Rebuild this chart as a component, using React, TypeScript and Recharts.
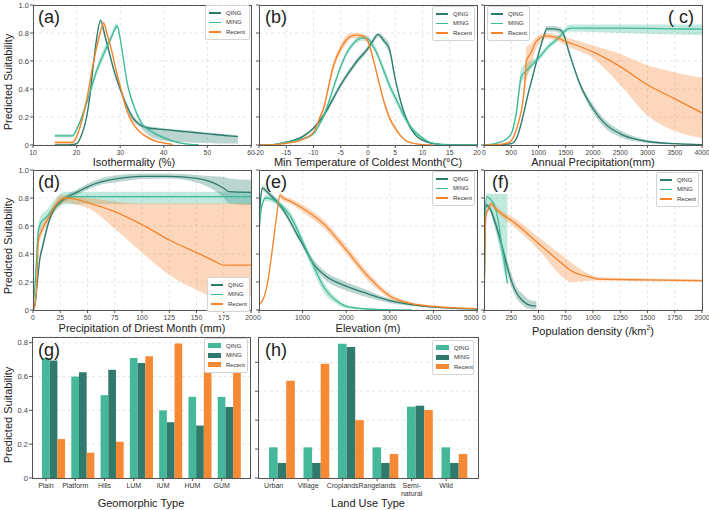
import React from 'react';
import { ComposedChart, Line, Area, XAxis, YAxis, CartesianGrid, BarChart, Bar } from 'recharts';

const FONT = "'Liberation Sans', Arial, sans-serif";
const QING_LINE = '#2a7d6d';
const MING_LINE = '#3dbb98';
const RECENT_LINE = '#f5832a';
const QING_BAR = '#45b89a';
const MING_BAR = '#2f7a6d';
const RECENT_BAR = '#f68a34';

// each point: [x, mean, lower, upper]
type Pt = [number, number, number, number];

// (a) Isothermality (%)
const isoQing: Pt[] = [
  [15, 0, 0, 0.004], [18, 0, 0, 0.004], [20, 0.01, 0.005, 0.015], [21, 0.06, 0.05, 0.07],
  [22.3, 0.2, 0.18, 0.22], [23, 0.34, 0.32, 0.36], [23.8, 0.56, 0.54, 0.58], [24.5, 0.74, 0.72, 0.76],
  [25.5, 0.89, 0.87, 0.9], [26.5, 0.78, 0.76, 0.8], [27.5, 0.66, 0.64, 0.68], [28.5, 0.54, 0.52, 0.56],
  [30, 0.4, 0.38, 0.42], [31.5, 0.28, 0.26, 0.3], [33, 0.19, 0.17, 0.21], [34.5, 0.145, 0.13, 0.16],
  [36, 0.125, 0.08, 0.135], [40, 0.11, 0.03, 0.12], [45, 0.095, 0.02, 0.105], [50, 0.08, 0.015, 0.09],
  [55, 0.065, 0.01, 0.075], [57, 0.06, 0.01, 0.07],
];
const isoMing: Pt[] = [
  [15, 0.065, 0.055, 0.078], [19, 0.065, 0.055, 0.078], [20, 0.11, 0.1, 0.125], [22.3, 0.3, 0.28, 0.33],
  [23.5, 0.42, 0.39, 0.45], [24.6, 0.53, 0.5, 0.56], [25.8, 0.62, 0.59, 0.66], [26.9, 0.7, 0.67, 0.73],
  [28, 0.77, 0.75, 0.8], [28.8, 0.83, 0.81, 0.86], [29.3, 0.85, 0.83, 0.87], [30, 0.76, 0.74, 0.78],
  [30.5, 0.66, 0.64, 0.68], [31, 0.56, 0.54, 0.58], [31.5, 0.46, 0.44, 0.48], [32, 0.39, 0.37, 0.41],
  [33, 0.29, 0.27, 0.31], [34, 0.21, 0.19, 0.23], [35, 0.15, 0.14, 0.17], [37, 0.1, 0.09, 0.11],
  [39, 0.065, 0.055, 0.075], [41, 0.04, 0.03, 0.05], [43, 0.02, 0.012, 0.028], [45, 0.008, 0.003, 0.013],
  [48, 0.002, 0, 0.005],
];
const isoRecent: Pt[] = [
  [15, 0.018, 0.01, 0.026], [19, 0.018, 0.01, 0.026], [20, 0.06, 0.05, 0.07], [21, 0.15, 0.14, 0.17],
  [22.3, 0.32, 0.3, 0.34], [23.8, 0.58, 0.56, 0.6], [25.4, 0.8, 0.78, 0.82], [26.2, 0.87, 0.85, 0.885],
  [27, 0.79, 0.77, 0.81], [28, 0.68, 0.66, 0.7], [29, 0.54, 0.52, 0.56], [30, 0.42, 0.4, 0.44],
  [31, 0.3, 0.28, 0.32], [32, 0.21, 0.19, 0.23], [33, 0.15, 0.14, 0.17], [34, 0.11, 0.1, 0.12],
  [36, 0.06, 0.05, 0.07], [38, 0.03, 0.022, 0.038], [40, 0.015, 0.008, 0.02], [42, 0.005, 0.001, 0.009],
];

// (b) Min temperature of coldest month
const tempQing: Pt[] = [
  [-20, 0, 0, 0.003], [-17, 0.005, 0.002, 0.008], [-15, 0.02, 0.015, 0.025], [-12, 0.06, 0.05, 0.07],
  [-10, 0.12, 0.11, 0.13], [-8, 0.22, 0.2, 0.24], [-6, 0.36, 0.34, 0.38], [-5, 0.43, 0.41, 0.45],
  [-4, 0.49, 0.47, 0.51], [-2, 0.6, 0.58, 0.62], [0, 0.69, 0.67, 0.71], [1, 0.75, 0.73, 0.77],
  [1.8, 0.79, 0.77, 0.8], [3, 0.74, 0.72, 0.77], [3.9, 0.69, 0.65, 0.72], [5, 0.47, 0.45, 0.49],
  [6, 0.31, 0.29, 0.33], [7, 0.19, 0.18, 0.21], [8, 0.11, 0.1, 0.12], [9, 0.06, 0.05, 0.07],
  [10, 0.035, 0.028, 0.042], [12, 0.01, 0.006, 0.014], [15, 0.002, 0, 0.004], [20, 0, 0, 0.002],
];
const tempMing: Pt[] = [
  [-20, 0, 0, 0.003], [-17, 0.005, 0.002, 0.008], [-15, 0.02, 0.015, 0.025], [-12, 0.045, 0.038, 0.052],
  [-10, 0.08, 0.07, 0.09], [-9, 0.14, 0.13, 0.15], [-8, 0.22, 0.2, 0.24], [-7, 0.33, 0.31, 0.35],
  [-6, 0.45, 0.43, 0.47], [-5, 0.56, 0.54, 0.58], [-4, 0.65, 0.63, 0.67], [-3, 0.71, 0.69, 0.73],
  [-2, 0.75, 0.73, 0.77], [-1, 0.765, 0.745, 0.785], [0, 0.76, 0.74, 0.78], [0.5, 0.73, 0.71, 0.755],
  [1.3, 0.68, 0.66, 0.71], [2, 0.62, 0.6, 0.65], [3.2, 0.5, 0.47, 0.53], [4, 0.42, 0.39, 0.45],
  [5, 0.34, 0.31, 0.37], [6.2, 0.24, 0.21, 0.27], [7, 0.18, 0.16, 0.21], [8, 0.12, 0.1, 0.14],
  [9, 0.08, 0.065, 0.095], [10, 0.05, 0.04, 0.06], [11, 0.025, 0.018, 0.032], [12.3, 0.01, 0.006, 0.014],
  [15, 0.001, 0, 0.003], [20, 0, 0, 0.001],
];
const tempRecent: Pt[] = [
  [-20, 0, 0, 0.002], [-17, 0.003, 0.001, 0.005], [-15, 0.012, 0.008, 0.016], [-12, 0.04, 0.034, 0.046],
  [-10, 0.09, 0.08, 0.1], [-8.8, 0.2, 0.18, 0.22], [-8, 0.28, 0.26, 0.31], [-7.5, 0.37, 0.34, 0.4],
  [-6.3, 0.57, 0.54, 0.6], [-5, 0.69, 0.66, 0.72], [-4, 0.75, 0.72, 0.78], [-3, 0.78, 0.76, 0.8],
  [-2, 0.785, 0.765, 0.8], [-1, 0.78, 0.76, 0.795], [0, 0.74, 0.72, 0.76], [0.5, 0.68, 0.66, 0.7],
  [1.3, 0.56, 0.54, 0.58], [2, 0.45, 0.43, 0.47], [3, 0.3, 0.28, 0.32], [4, 0.19, 0.17, 0.21],
  [5, 0.12, 0.105, 0.135], [6, 0.065, 0.055, 0.075], [7, 0.03, 0.024, 0.036], [8, 0.015, 0.01, 0.02],
  [10, 0.003, 0.001, 0.005], [12, 0, 0, 0.002],
];

// (c) Annual precipitation
const precipQing: Pt[] = [
  [0, 0, 0, 0.002], [300, 0.003, 0.001, 0.005], [500, 0.01, 0.006, 0.014], [600, 0.05, 0.04, 0.06],
  [700, 0.18, 0.16, 0.2], [800, 0.35, 0.33, 0.37], [900, 0.5, 0.48, 0.52], [1000, 0.65, 0.63, 0.67],
  [1100, 0.78, 0.76, 0.8], [1150, 0.83, 0.81, 0.85], [1250, 0.83, 0.81, 0.85], [1400, 0.82, 0.8, 0.84],
  [1450, 0.8, 0.78, 0.82], [1570, 0.65, 0.63, 0.67], [1755, 0.44, 0.42, 0.46], [2000, 0.26, 0.23, 0.29],
  [2200, 0.16, 0.13, 0.19], [2500, 0.08, 0.055, 0.105], [2800, 0.04, 0.025, 0.055], [3000, 0.025, 0.015, 0.035],
  [3500, 0.01, 0.005, 0.015], [4000, 0.003, 0, 0.006],
];
const precipMing: Pt[] = [
  [0, 0, 0, 0.002], [200, 0.01, 0.007, 0.013], [400, 0.04, 0.035, 0.045], [500, 0.08, 0.07, 0.09],
  [593, 0.23, 0.2, 0.26], [685, 0.49, 0.44, 0.55], [777, 0.53, 0.49, 0.58], [900, 0.58, 0.56, 0.61],
  [1000, 0.62, 0.6, 0.64], [1200, 0.71, 0.69, 0.73], [1327, 0.75, 0.73, 0.77], [1450, 0.8, 0.78, 0.82],
  [1540, 0.83, 0.81, 0.855], [1600, 0.835, 0.81, 0.86], [2500, 0.835, 0.8, 0.86], [3500, 0.83, 0.79, 0.86],
  [4000, 0.827, 0.785, 0.86],
];
const precipRecent: Pt[] = [
  [0, 0, 0, 0.002], [300, 0.005, 0.003, 0.007], [470, 0.02, 0.015, 0.025], [624, 0.15, 0.13, 0.17],
  [716, 0.32, 0.29, 0.35], [760, 0.5, 0.4, 0.6], [777, 0.6, 0.45, 0.7], [850, 0.65, 0.55, 0.72],
  [960, 0.74, 0.69, 0.77], [1144, 0.78, 0.76, 0.8], [1300, 0.77, 0.75, 0.79], [1500, 0.74, 0.71, 0.77],
  [2000, 0.665, 0.62, 0.71], [2500, 0.56, 0.43, 0.65], [3000, 0.43, 0.21, 0.57], [3500, 0.33, 0.1, 0.52],
  [4000, 0.23, 0.05, 0.48],
];

// (d) Precipitation of driest month
const dryQing: Pt[] = [
  [0, 0, 0, 0.01], [2, 0.05, 0.03, 0.07], [4, 0.2, 0.17, 0.23], [6, 0.35, 0.32, 0.38], [9, 0.46, 0.43, 0.49],
  [12, 0.56, 0.53, 0.59], [15, 0.64, 0.62, 0.66], [18, 0.7, 0.68, 0.72], [21, 0.74, 0.72, 0.76],
  [25, 0.77, 0.75, 0.79], [30, 0.8, 0.78, 0.82], [40, 0.84, 0.82, 0.86], [50, 0.88, 0.86, 0.9],
  [60, 0.91, 0.89, 0.935], [75, 0.935, 0.91, 0.96], [100, 0.955, 0.935, 0.975], [125, 0.955, 0.94, 0.975],
  [150, 0.94, 0.91, 0.965], [165, 0.91, 0.86, 0.955], [175, 0.87, 0.8, 0.95], [180, 0.845, 0.76, 0.94],
  [200, 0.84, 0.75, 0.93],
];
const dryMing: Pt[] = [
  [0, 0, 0, 0.01], [2, 0.2, 0.16, 0.24], [5, 0.57, 0.52, 0.62], [7, 0.62, 0.57, 0.67], [10, 0.65, 0.6, 0.7],
  [12, 0.66, 0.62, 0.71], [15, 0.69, 0.65, 0.74], [21, 0.75, 0.71, 0.8], [25, 0.78, 0.74, 0.83],
  [30, 0.805, 0.755, 0.845], [40, 0.81, 0.755, 0.845], [200, 0.81, 0.755, 0.845],
];
const dryRecent: Pt[] = [
  [0, 0, 0, 0.01], [2, 0.04, 0.02, 0.06], [4, 0.3, 0.26, 0.34], [5, 0.5, 0.46, 0.54], [7, 0.55, 0.51, 0.59],
  [10, 0.6, 0.57, 0.63], [15, 0.67, 0.64, 0.7], [20, 0.74, 0.71, 0.77], [25, 0.785, 0.75, 0.82],
  [30, 0.8, 0.77, 0.82], [40, 0.79, 0.75, 0.81], [50, 0.767, 0.73, 0.8], [75, 0.703, 0.58, 0.775],
  [100, 0.61, 0.41, 0.76], [125, 0.5, 0.25, 0.76], [150, 0.41, 0.145, 0.76], [165, 0.355, 0.1, 0.76],
  [175, 0.32, 0.1, 0.76], [180, 0.32, 0.1, 0.76], [200, 0.32, 0.1, 0.76],
];

// (e) Elevation
const elevQing: Pt[] = [
  [0, 0.6, 0.57, 0.63], [40, 0.8, 0.77, 0.83], [80, 0.87, 0.85, 0.89], [200, 0.84, 0.82, 0.86],
  [500, 0.74, 0.72, 0.76], [720, 0.63, 0.61, 0.65], [870, 0.54, 0.52, 0.56], [1000, 0.47, 0.45, 0.49],
  [1250, 0.33, 0.31, 0.36], [1500, 0.25, 0.22, 0.28], [2000, 0.17, 0.14, 0.2], [2500, 0.115, 0.09, 0.14],
  [3000, 0.067, 0.05, 0.08], [3500, 0.038, 0.028, 0.048], [4000, 0.02, 0.014, 0.026], [4500, 0.012, 0.008, 0.016],
  [5000, 0.007, 0.004, 0.01],
];
const elevMing: Pt[] = [
  [0, 0.55, 0.52, 0.58], [50, 0.72, 0.69, 0.75], [150, 0.8, 0.78, 0.82], [300, 0.79, 0.77, 0.81],
  [500, 0.75, 0.73, 0.77], [700, 0.68, 0.66, 0.71], [1000, 0.49, 0.46, 0.52], [1200, 0.35, 0.31, 0.38],
  [1500, 0.157, 0.12, 0.19], [1800, 0.06, 0.04, 0.08], [2000, 0.026, 0.015, 0.037], [2500, 0.007, 0.002, 0.012],
  [3000, 0.001, 0, 0.003], [3500, 0, 0, 0.001],
];
const elevRecent: Pt[] = [
  [0, 0.04, 0.03, 0.05], [100, 0.08, 0.07, 0.09], [200, 0.2, 0.18, 0.22], [300, 0.42, 0.4, 0.44],
  [400, 0.66, 0.64, 0.68], [480, 0.82, 0.8, 0.84], [550, 0.8, 0.78, 0.82], [700, 0.78, 0.76, 0.8],
  [1000, 0.727, 0.7, 0.75], [1500, 0.61, 0.58, 0.64], [2000, 0.43, 0.4, 0.46], [2500, 0.24, 0.21, 0.27],
  [3000, 0.1, 0.08, 0.12], [3500, 0.045, 0.035, 0.055], [4000, 0.025, 0.018, 0.032], [4500, 0.015, 0.01, 0.02],
  [5000, 0.01, 0.006, 0.014],
];

// (f) Population density
const popQing: Pt[] = [
  [0, 0, 0, 0.01], [10, 0.6, 0.57, 0.63], [20, 0.75, 0.73, 0.77], [50, 0.73, 0.71, 0.75],
  [100, 0.63, 0.6, 0.66], [150, 0.5, 0.45, 0.53], [200, 0.35, 0.3, 0.39], [250, 0.21, 0.17, 0.26],
  [300, 0.12, 0.08, 0.16], [350, 0.07, 0.04, 0.12], [400, 0.04, 0.01, 0.08], [450, 0.03, 0.005, 0.065],
  [480, 0.03, 0.005, 0.065],
];
const popMing: Pt[] = [
  [0, 0, 0, 0.01], [10, 0.65, 0.6, 0.7], [25, 0.81, 0.77, 0.83], [60, 0.79, 0.7, 0.83], [100, 0.74, 0.58, 0.83],
  [130, 0.64, 0.49, 0.83], [160, 0.48, 0.37, 0.83], [190, 0.32, 0.25, 0.83], [215, 0.19, 0.18, 0.83],
];
const popRecent: Pt[] = [
  [0, 0, 0, 0.01], [10, 0.55, 0.53, 0.57], [20, 0.68, 0.66, 0.7], [40, 0.72, 0.7, 0.74], [67, 0.76, 0.74, 0.775],
  [100, 0.73, 0.71, 0.75], [200, 0.665, 0.64, 0.69], [250, 0.64, 0.61, 0.67], [500, 0.475, 0.43, 0.52],
  [750, 0.31, 0.22, 0.37], [800, 0.28, 0.2, 0.34], [1000, 0.23, 0.21, 0.245], [1050, 0.22, 0.21, 0.235],
  [1500, 0.215, 0.205, 0.225], [2000, 0.21, 0.2, 0.22],
];

// (g) Geomorphic type
const geoCats = ['Plain', 'Platform', 'Hills', 'LUM', 'IUM', 'HUM', 'GUM'];
const geoQing = [0.71, 0.6, 0.49, 0.71, 0.4, 0.48, 0.48];
const geoMing = [0.695, 0.625, 0.64, 0.68, 0.33, 0.31, 0.42];
const geoRecent = [0.23, 0.15, 0.215, 0.72, 0.795, 0.76, 0.66];

// (h) Land use type
const landCats = ['Urban', 'Village', 'Croplands', 'Rangelands', 'Semi-\nnatural', 'Wild'];
const landQing = [0.212, 0.212, 0.929, 0.212, 0.493, 0.212];
const landMing = [0.104, 0.104, 0.906, 0.104, 0.5, 0.104];
const landRecent = [0.673, 0.79, 0.4, 0.166, 0.47, 0.166];

const yTicks = [0, 0.2, 0.4, 0.6, 0.8, 1];
const fmtY = (v: number) => (v === 0 ? '0' : v.toFixed(1));
const toRows = (pts: Pt[]) => pts.map(([x, y, lo, hi]) => ({ x, y, band: [lo, hi] }));

const lineKeys = [
  { name: 'QING', color: QING_LINE },
  { name: 'MING', color: MING_LINE },
  { name: 'Recent', color: RECENT_LINE },
];
const barKeys = [
  { name: 'QING', color: QING_BAR },
  { name: 'MING', color: MING_BAR },
  { name: 'Recent', color: RECENT_BAR },
];

function KeyBox({ left, top, width, items, patch }: any) {
  return (
    <div style={{
      position: 'absolute', left, top, width, boxSizing: 'border-box', padding: '2px 3px',
      border: '1px solid #d4d4d4', borderRadius: 2, background: 'rgba(255,255,255,0.95)',
    }}>
      {items.map((it: any) => (
        <div key={it.name} style={{ display: 'flex', alignItems: 'center', height: 9.5, fontSize: 6, color: '#333' }}>
          <span style={{ width: patch ? 13 : 12, height: patch ? 5 : 1.5, background: it.color, marginRight: 5, flexShrink: 0 }} />
          <span>{it.name}</span>
        </div>
      ))}
    </div>
  );
}

function Frame({ box }: { box: number[] }) {
  const [L, T, W, H] = box;
  return (
    <div style={{ position: 'absolute', left: L, top: T, width: W + 1, height: H + 1, boxSizing: 'border-box', border: '1px solid #555', pointerEvents: 'none' }} />
  );
}

function Tag({ text, left, top }: any) {
  return <div style={{ position: 'absolute', left, top, fontSize: 18, lineHeight: '18px', color: '#222' }}>{text}</div>;
}

function XTitle({ box, y, children }: any) {
  return (
    <div style={{ position: 'absolute', left: box[0], top: y - 7, width: box[2], textAlign: 'center', fontSize: 11, lineHeight: '14px', color: '#222', whiteSpace: 'nowrap' }}>
      {children}
    </div>
  );
}

function YTitle({ cy }: { cy: number }) {
  return (
    <div style={{ position: 'absolute', left: 8 - 70, top: cy - 7, width: 140, height: 14, lineHeight: '14px', textAlign: 'center', fontSize: 11, color: '#222', transform: 'rotate(-90deg)' }}>
      Predicted Suitability
    </div>
  );
}

function NumTick(props: any) {
  const { x, y, payload, index, visibleTicksCount, endLast } = props;
  const last = endLast && index === visibleTicksCount - 1;
  return (
    <text x={last ? x + 2 : x} y={y} dy="0.71em" textAnchor={last ? 'end' : 'middle'} fontSize={6.8} fill="#444">
      {payload.value}
    </text>
  );
}

function CurvePanel({ box, xDomain, xTicks, showY, series, endLast }: any) {
  const [L, T, W, H] = box;
  return (
    <div style={{ position: 'absolute', left: L - 40, top: T - 10 }}>
      <ComposedChart width={W + 50} height={H + 30} margin={{ top: 10, right: 10, bottom: 0, left: 0 }}>
        <CartesianGrid stroke="#dedede" strokeDasharray="3 3" strokeWidth={0.8} />
        <XAxis type="number" dataKey="x" domain={xDomain} ticks={xTicks} interval={0} allowDataOverflow
          axisLine={false} tickSize={3} tickMargin={2} height={20} stroke="#555"
          tick={(p: any) => <NumTick {...p} endLast={endLast} />} />
        <YAxis type="number" domain={[0, 1]} ticks={yTicks} interval={0} allowDataOverflow
          axisLine={false} tickSize={3} tickMargin={1} width={40} stroke="#555"
          tickFormatter={showY ? fmtY : () => ''} tick={{ fontSize: 7.5, fill: '#444' }} />
        {series.map((s: any) => (
          <Area key={s.name + 'b'} data={toRows(s.pts)} dataKey="band" type="monotone" stroke="none"
            fill={s.color} fillOpacity={0.32} isAnimationActive={false} />
        ))}
        {series.map((s: any) => (
          <Line key={s.name} data={toRows(s.pts)} dataKey="y" type="monotone" stroke={s.color}
            strokeWidth={1.3} dot={false} activeDot={false} isAnimationActive={false} />
        ))}
      </ComposedChart>
    </div>
  );
}

function CatTick(props: any) {
  const { x, y, payload, shift } = props;
  const cx = x - shift;
  const lines = String(payload.value).split('\n');
  return (
    <g>
      <line x1={cx} x2={cx} y1={y - 5} y2={y - 2} stroke="#555" />
      <text x={cx} y={y} textAnchor="middle" fontSize={7} fill="#333">
        {lines.map((l, i) => (
          <tspan key={i} x={cx} dy={i === 0 ? '0.71em' : '1.1em'}>{l}</tspan>
        ))}
      </text>
    </g>
  );
}

function BarPanel({ box, cats, q, m, r, yMax, showY, barSize, pad }: any) {
  const [L, T, W, H] = box;
  const rows = cats.map((c: string, i: number) => ({ cat: c, QING: q[i], MING: m[i], Recent: r[i] }));
  return (
    <div style={{ position: 'absolute', left: L - 40, top: T - 10 }}>
      <BarChart width={W + 50} height={H + 30} data={rows} barGap={0} barSize={barSize}
        margin={{ top: 10, right: 10, bottom: 0, left: 0 }}>
        <CartesianGrid stroke="#dedede" strokeDasharray="3 3" strokeWidth={0.8} vertical={false} />
        <XAxis dataKey="cat" interval={0} padding={pad} axisLine={false} tickLine={false} tickSize={3} tickMargin={2}
          height={20} tick={(p: any) => <CatTick {...p} shift={barSize} />} />
        <YAxis type="number" domain={[0, yMax]} ticks={[0, 0.2, 0.4, 0.6, 0.8]} interval={0} allowDataOverflow
          axisLine={false} tickSize={3} tickMargin={1} width={40} stroke="#555"
          tickFormatter={showY ? fmtY : () => ''} tick={{ fontSize: 7.5, fill: '#444' }} />
        <Bar dataKey="QING" fill={QING_BAR} isAnimationActive={false} />
        <Bar dataKey="MING" fill={MING_BAR} isAnimationActive={false} />
        <Bar dataKey="Recent" fill={RECENT_BAR} isAnimationActive={false} />
      </BarChart>
    </div>
  );
}

const series = (q: Pt[], m: Pt[], r: Pt[]) => [
  { name: 'QING', pts: q, color: QING_LINE },
  { name: 'MING', pts: m, color: MING_LINE },
  { name: 'Recent', pts: r, color: RECENT_LINE },
];

const boxA = [33, 5, 218, 140];
const boxB = [259, 5, 218, 140];
const boxC = [484, 5, 218, 140];
const boxD = [33, 170, 218, 140];
const boxE = [259, 170, 218, 140];
const boxF = [484, 170, 218, 140];
const boxG = [32, 337, 218, 141];
const boxH = [258, 337, 220, 141];

export default function App() {
  return (
    <div style={{ position: 'absolute', left: 0, top: 0, width: 709, height: 510, background: '#fff', fontFamily: FONT, overflow: 'hidden' }}>
      <CurvePanel box={boxA} xDomain={[10, 60]} xTicks={[10, 20, 30, 40, 50, 60]} showY series={series(isoQing, isoMing, isoRecent)} />
      <CurvePanel box={boxB} xDomain={[-20, 20]} xTicks={[-20, -15, -10, -5, 0, 5, 10, 15, 20]} series={series(tempQing, tempMing, tempRecent)} />
      <CurvePanel box={boxC} xDomain={[0, 4000]} xTicks={[0, 500, 1000, 1500, 2000, 2500, 3000, 3500, 4000]} series={series(precipQing, precipMing, precipRecent)} />
      <CurvePanel box={boxD} xDomain={[0, 200]} xTicks={[0, 25, 50, 75, 100, 125, 150, 175, 200]} showY series={series(dryQing, dryMing, dryRecent)} />
      <CurvePanel box={boxE} xDomain={[0, 5000]} xTicks={[0, 1000, 2000, 3000, 4000, 5000]} endLast series={series(elevQing, elevMing, elevRecent)} />
      <CurvePanel box={boxF} xDomain={[0, 2000]} xTicks={[0, 250, 500, 750, 1000, 1250, 1500, 1750, 2000]} series={series(popQing, popMing, popRecent)} />
      <BarPanel box={boxG} cats={geoCats} q={geoQing} m={geoMing} r={geoRecent} yMax={0.834} showY barSize={7.7} pad={{ left: 7, right: 6 }} />
      <BarPanel box={boxH} cats={landCats} q={landQing} m={landMing} r={landRecent} yMax={0.975} barSize={8.6} pad={{ left: 7, right: 6 }} />

      {[boxA, boxB, boxC, boxD, boxE, boxF, boxG, boxH].map((b, i) => <Frame key={i} box={b} />)}

      <Tag text="(a)" left={38} top={8} />
      <Tag text="(b)" left={265} top={8} />
      <Tag text="( c)" left={668} top={8} />
      <Tag text="(d)" left={38} top={173} />
      <Tag text="(e)" left={265} top={173} />
      <Tag text="(f)" left={492} top={173} />
      <Tag text="(g)" left={38} top={341} />
      <Tag text="(h)" left={265} top={341} />

      <KeyBox left={205} top={5} width={45} items={lineKeys} />
      <KeyBox left={432} top={6} width={43} items={lineKeys} />
      <KeyBox left={487} top={6} width={43} items={lineKeys} />
      <KeyBox left={207} top={277} width={43} items={lineKeys} />
      <KeyBox left={432} top={171} width={43} items={lineKeys} />
      <KeyBox left={656} top={172} width={43} items={lineKeys} />
      <KeyBox left={204} top={338} width={44} items={barKeys} patch />
      <KeyBox left={432} top={340} width={42} items={barKeys} patch />

      <XTitle box={[boxA[0] - 8, 0, boxA[2]]} y={162}>Isothermality (%)</XTitle>
      <XTitle box={boxB} y={162}>Min Temperature of Coldest Month(°C)</XTitle>
      <XTitle box={boxC} y={162}>Annual Precipitation(mm)</XTitle>
      <XTitle box={boxD} y={328}>Precipitation of Driest Month (mm)</XTitle>
      <XTitle box={boxE} y={328}>Elevation (m)</XTitle>
      <XTitle box={boxF} y={328}>Population density (/km<sup style={{ fontSize: 7 }}>2</sup>)</XTitle>
      <XTitle box={boxG} y={503}>Geomorphic Type</XTitle>
      <XTitle box={boxH} y={503}>Land Use Type</XTitle>

      <YTitle cy={82} />
      <YTitle cy={246} />
      <YTitle cy={415} />
    </div>
  );
}
